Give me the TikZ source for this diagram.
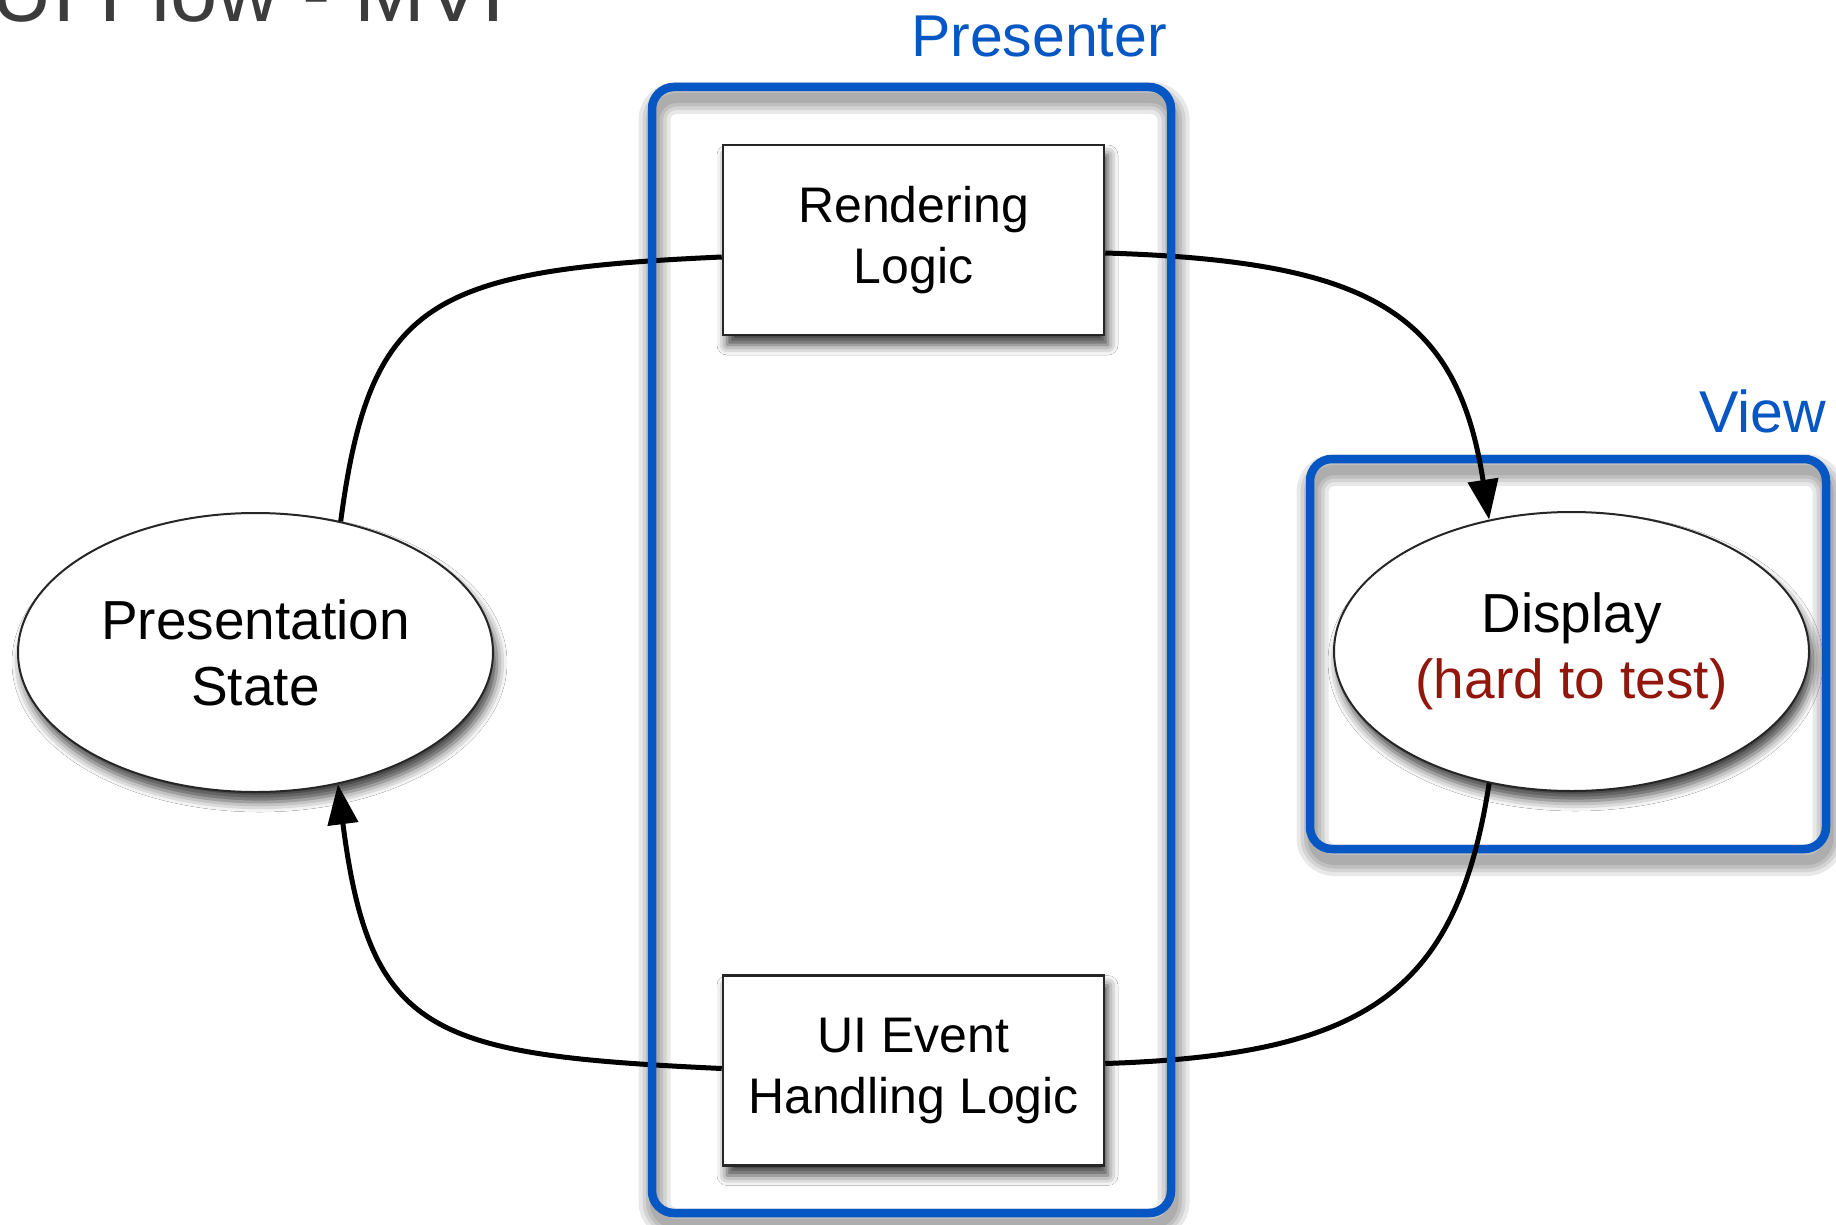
\documentclass[tikz,border=0pt]{standalone}
\usepackage{fontspec}
\setmainfont{Liberation Sans}
\usetikzlibrary{shapes.geometric,arrows.meta,calc,shadows.blur}
\definecolor{mvpblue}{RGB}{6,86,196}
\definecolor{hardred}{RGB}{146,22,12}
\definecolor{titlegray}{RGB}{60,60,60}
\begin{document}
\begin{tikzpicture}[x=1pt,y=-1pt,
  softshadow/.style={blur shadow={shadow xshift=4pt, shadow yshift=-10pt,
      shadow blur radius=10pt, shadow opacity=75}},
  box/.style={draw=black!85, line width=2.5pt, fill=white,
      minimum width=381pt, minimum height=190pt, inner sep=0pt, align=center,
      font=\fontsize{50}{61}\selectfont, softshadow},
  statenode/.style={ellipse, draw=black!85, line width=2pt, fill=white,
      minimum width=475pt, minimum height=279pt, inner sep=0pt, align=center,
      font=\fontsize{55}{66}\selectfont, softshadow},
  groupframe/.style={draw=mvpblue, line width=8.5pt, rounded corners=22pt, inner sep=0pt},
  frameshade/.style={draw=black, draw opacity=0.09, rounded corners=22pt},
  grouplabel/.style={text=mvpblue, font=\fontsize{59}{70}\selectfont,
      anchor=base east, inner sep=0pt},
  flowline/.style={line width=5pt, draw=black},
  arrowend/.style={-{Triangle[length=40pt,width=30pt]}},
]
\useasboundingbox (0,0) rectangle (1836,1225);
\clip (0,0) rectangle (1836,1225);
\fill[white] (0,0) rectangle (1836,1225);

% heading, partly above the page edge
\node[anchor=base west, inner sep=0pt, text=titlegray,
      font=\fontsize{85}{95}\selectfont] (title) at (-9,22) {UI Flow - MVP};

% soft shadows of the two group frames
\foreach \w in {32,24,17,10} {
  \draw[frameshade, line width=\w pt] (654.5,98) rectangle (1173.5,1224);
  \draw[frameshade, line width=\w pt] (1312.5,470) rectangle (1828.5,860);
}

% view frame
\node[groupframe, minimum width=516pt, minimum height=390pt] (view) at (1568,654) {};

% nodes
\node[box] (render) at (913.5,240) {Rendering\\Logic};
\node[box] (uievent) at (913.5,1070.5) {UI Event\\Handling Logic};
\node[statenode] (pstate) at (255.5,652.5) {Presentation\\State};
\node[statenode] (display) at (1571.5,651.5) {Display\\\textcolor{hardred}{(hard to test)}};

% flow between the parts
\draw[flowline] (pstate.57) .. controls (370,300) and (430,270) .. ($(render.west)+(0,17)$);
\draw[flowline, arrowend] ($(render.east)+(0,13)$) .. controls (1370,261) and (1457,312) .. (display.122);
\draw[flowline] (display.238) .. controls (1457,990) and (1370,1055) .. ($(uievent.east)+(0,-7)$);
\draw[flowline, arrowend] ($(uievent.west)+(0,-2)$) .. controls (430,1055) and (370,1035) .. (pstate.302);

% presenter frame
\node[groupframe, minimum width=519pt, minimum height=1126pt] (presenter) at (911.5,650) {};

% group labels
\node[grouplabel] (presenterlabel) at (1167,57) {Presenter};
\node[grouplabel] (viewlabel) at (1826,432) {View};
\end{tikzpicture}
\end{document}
